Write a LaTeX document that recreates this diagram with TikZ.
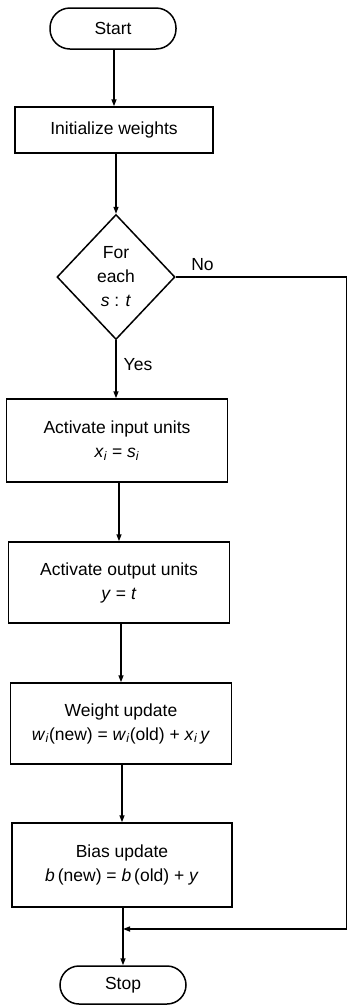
\documentclass[tikz,border=0pt]{standalone}
\usepackage{fontspec}
\setmainfont{Liberation Sans}
\usetikzlibrary{shapes.geometric,arrows.meta}
\newcommand{\vv}[1]{\textit{#1}}
\newcommand{\sbi}{\textsubscript{\textit{i}}}
\begin{document}
\begin{tikzpicture}[x=1pt,y=-1pt,
  txt/.style={font=\fontsize{17.5}{24}\selectfont},
  box/.style={txt, draw, line width=1.5pt, inner sep=0pt, align=center},
  term/.style={box, minimum width=126pt},
  dia/.style={box, diamond, minimum width=118pt, minimum height=125pt},
  flow/.style={line width=1.5pt, -{Triangle[length=7pt,width=5pt]}},
  plain/.style={line width=1.5pt}]
\useasboundingbox (0,0) rectangle (348,1005);
\fill[white] (0,0) rectangle (348,1005);

\node[term, minimum height=41pt, rounded corners=20pt] (start) at (113,28.5) {Start};
\node[box, minimum width=198pt, minimum height=46pt] (init) at (114,130) {Initialize weights};
\node[dia] (dec) at (116,277) {For\\each\\\vv{s} : \vv{t}};
\node[box, minimum width=221pt, minimum height=83pt] (input) at (117,440.5)
  {Activate input units\\\vv{x}\sbi{} = \vv{s}\sbi};
\node[box, minimum width=221pt, minimum height=81pt] (output) at (119,582.5)
  {Activate output units\\\vv{y} = \vv{t}};
\node[box, minimum width=221pt, minimum height=81pt] (weight) at (121,723.5)
  {Weight update\\\vv{w}\sbi(new) = \vv{w}\sbi(old) + \vv{x}\sbi\,\vv{y}};
\node[box, minimum width=220pt, minimum height=84pt] (bias) at (122,865)
  {Bias update\\\vv{b}\,(new) = \vv{b}\,(old) + \vv{y}};
\node[term, minimum height=38pt, rounded corners=19pt] (stop) at (123,985) {Stop};

\coordinate (c1) at (346.5,277);
\coordinate (c2) at (346.5,929);
\coordinate (j) at (123,929);

\draw[flow] (init.north |- start.south) -- (init.north);
\draw[flow] (dec.north |- init.south) -- (dec.north);
\draw[flow] (dec.south) -- (dec.south |- input.north);
\draw[flow] (output.north |- input.south) -- (output.north);
\draw[flow] (weight.north |- output.south) -- (weight.north);
\draw[flow] (bias.north |- weight.south) -- (bias.north);
\draw[flow] (stop.north |- bias.south) -- (stop.north);
\draw[plain] (dec.east) -- (c1) -- (c2);
\draw[flow] (c2) -- (j);

\node[txt] (no) at (202.5,265) {No};
\node[txt] (yes) at (138,365) {Yes};
\end{tikzpicture}
\end{document}
